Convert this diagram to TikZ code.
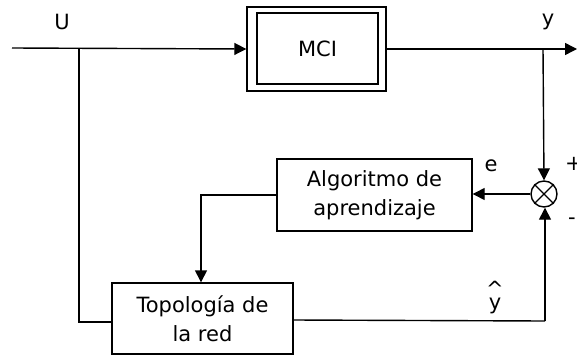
\documentclass[tikz,border=0pt]{standalone}
\usepackage{fontspec}
\setmainfont{DejaVu Sans}
\usetikzlibrary{arrows.meta}
\begin{document}
\begin{tikzpicture}[x=1pt,y=-1pt,
  line width=1.4pt,
  font=\fontsize{21}{29}\selectfont,
  blk/.style={draw,rectangle,inner sep=0pt,align=center},
  lbl/.style={inner sep=0pt,anchor=base},
  arr/.style={-{Triangle[length=12pt,width=12pt]}}]
  \useasboundingbox (0,0) rectangle (577,356);

  % plant: double-framed block
  \node[blk,minimum width=139pt,minimum height=84pt] (mcio) at (316.5,49) {};
  \node[blk,minimum width=121pt,minimum height=71pt] (mci) at (317.5,48.5) {MCI};

  % learning algorithm and network topology blocks
  \node[blk,minimum width=195pt,minimum height=72pt] (alg) at (374.5,195) {Algoritmo de\\aprendizaje};
  \node[blk,minimum width=181pt,minimum height=71pt] (top) at (202.5,318.5) {Topología de\\la red};

  % summing junction
  \node[draw,circle,minimum size=26pt,inner sep=0pt] (sum) at (544,194) {};
  \draw[line width=1.2pt] (sum.north west) -- (sum.south east) (sum.north east) -- (sum.south west);

  % signal coordinates
  \coordinate (in) at (12,48);
  \coordinate (ub) at (79,48);
  \coordinate (out) at (577,49);
  \coordinate (yb) at (543,49);
  \coordinate (ret) at (545,321);

  % input and output signals
  \draw[arr] (in) -- (mcio.west |- 0,49);
  \draw[arr] (mcio.east |- 0,49) -- (out);
  \draw (ub) |- (top.west |- 0,322);

  % feedback path
  \draw[arr] (yb) -- (sum.north);
  \draw[arr] (sum.west) -- (alg.east |- sum.west);
  \draw[arr] (alg.west) -| (top.north -| 201,0);
  \draw (top.east |- 0,320) -- (ret);
  \draw[arr] (ret) -- (sum.south -| ret);

  % labels
  \node[lbl] (u) at (62,29) {U};
  \node[lbl] (y) at (548,25) {y};
  \node[lbl] (e) at (491,171) {e};
  \node[lbl] (plus) at (574,170) {+};
  \node[lbl] (minus) at (572,224) {-};
  \node[inner sep=0pt,align=center,font=\fontsize{21}{13}\selectfont] (yh) at (495,298) {\^{}\\y};
\end{tikzpicture}
\end{document}
